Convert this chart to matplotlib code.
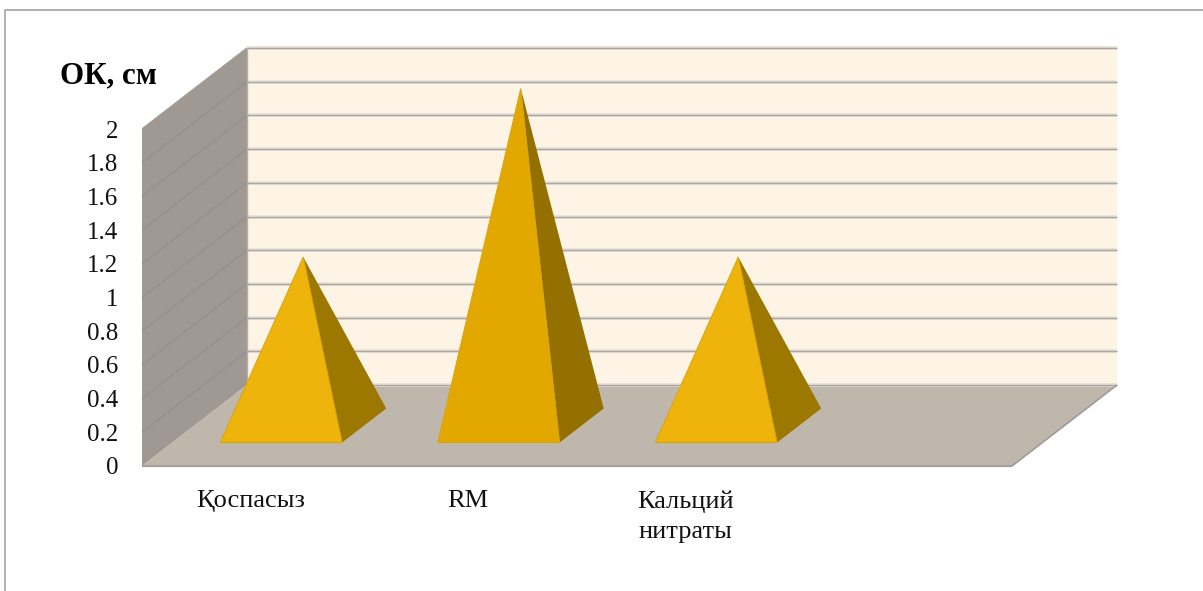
# Oblique 3D pyramid chart drawn on a plain 2D axes
import matplotlib
matplotlib.use('Agg')
import matplotlib.pyplot as plt
from matplotlib.lines import Line2D
from matplotlib.patches import Polygon

# data
categories = ['Қоспасыз', 'RM', 'Кальций\nнитраты']
values = [1.0, 2.0, 1.0]
y_ticks = [0, 0.2, 0.4, 0.6, 0.8, 1.0, 1.2, 1.4, 1.6, 1.8, 2.0]
y_tick_labels = ['0', '0.2', '0.4', '0.6', '0.8', '1', '1.2', '1.4', '1.6', '1.8', '2']
n_slots = 4

W, H = 1203, 591
plt.rcParams['font.family'] = ['Liberation Serif', 'DejaVu Serif']

fig = plt.figure(figsize=(W / 100, H / 100), dpi=100)
# front plane of the box, in pixels: x 142..1012, y 466..129
ax = fig.add_axes([142 / W, 1 - 466 / H, 870 / W, 337 / H])
ax.set_xlim(0, n_slots)
ax.set_ylim(0, 2)
ax.patch.set_visible(False)
for s in ax.spines.values():
    s.set_visible(False)

# how far one unit of depth shifts a point, in data units
DX = 105 / 217.5
DY = 81 / 168.5


def proj(x, v, d):
    return (x + d * DX, v + d * DY)


def face(pts, color, z, edge='none', lw=0):
    ax.add_patch(Polygon([proj(*p) for p in pts], closed=True, facecolor=color,
                         edgecolor=edge, linewidth=lw, zorder=z, clip_on=False))


def line(p0, p1, color, lw, z):
    a, b = proj(*p0), proj(*p1)
    ax.plot([a[0], b[0]], [a[1], b[1]], color=color, lw=lw, zorder=z,
            clip_on=False, solid_capstyle='butt')


# walls and floor
face([(0, 0, 1), (n_slots, 0, 1), (n_slots, 2, 1), (0, 2, 1)], '#fef4e6', 1)
face([(0, 0, 0), (0, 0, 1), (0, 2, 1), (0, 2, 0)], '#a09892', 1)
face([(0, 0, 0), (n_slots, 0, 0), (n_slots, 0, 1), (0, 0, 1)], '#bfb6ac', 2)

# gridlines, each with a faint shadow
for v in y_ticks:
    if v > 0:
        line((0, v, 0), (0, v, 1), '#8f928f', 0.9, 3)
    line((0, v, 1), (n_slots, v, 1), '#e6e0d8', 2.6, 3)
    line((0, v, 1), (n_slots, v, 1), '#aaa59f', 1.0, 3)
line((0, 2, 0), (0, 2, 1), '#a8a29c', 0.8, 3)
line((0, 0, 1), (0, 2, 1), '#b5afa8', 1.0, 3)
line((0, 0, 0), (n_slots, 0, 0), '#a5a09b', 1.6, 4)
line((n_slots, 0, 0), (n_slots, 0, 1), '#a09b96', 1.2, 4)

# pyramids
half_w = 0.28
d0, d1 = 0.29, 0.71
front_colors = ['#efb40b', '#e2a800', '#efb40b']
side_colors = ['#9c7800', '#937000', '#9c7800']
for i, v in enumerate(values):
    xc = i + 0.5
    apex = (xc, v, 0.5)
    fl = (xc - half_w, 0, d0)
    fr = (xc + half_w, 0, d0)
    br = (xc + half_w, 0, d1)
    face([fr, br, apex], side_colors[i], 5)
    face([fl, fr, apex], front_colors[i], 6, edge='#d9a507', lw=0.7)

# axis text
ax.set_xticks([i + 0.5 for i in range(len(categories))])
ax.set_xticklabels(categories, fontsize=19, linespacing=1.5, color='#111111')
ax.set_yticks(y_ticks)
ax.set_yticklabels(y_tick_labels, fontsize=18, color='#111111', va='center_baseline')
ax.tick_params(axis='x', length=0, pad=17.5)
ax.tick_params(axis='y', length=0, pad=17)

fig.text(60 / W, 1 - 76 / H, 'ОК, см', fontsize=22.3, fontweight='bold',
         va='center', ha='left', color='black')

# chart frame, top and left only
fig.add_artist(Line2D([5 / W, 5 / W, 1], [0, 1 - 9.5 / H, 1 - 9.5 / H],
                      color='#a3a3a3', lw=1.2))

fig.savefig('out.png', dpi=100)
